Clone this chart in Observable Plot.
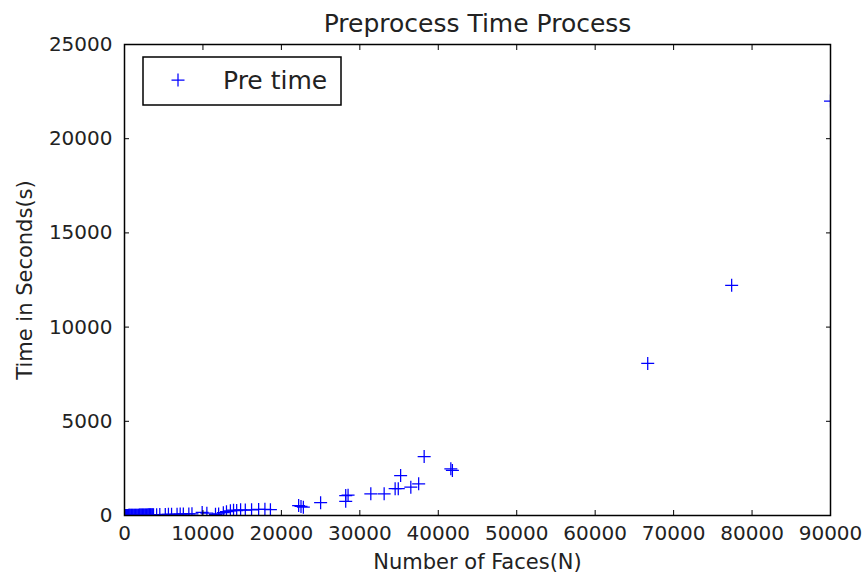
<!DOCTYPE html>
<html>
<head>
<meta charset="utf-8">
<script src="https://cdn.jsdelivr.net/npm/d3@7"></script>
<script src="https://cdn.jsdelivr.net/npm/@observablehq/plot@0.6"></script>
<style>
  html, body { margin: 0; padding: 0; background: #fff; }
  #chart { width: 866px; height: 577px; }
</style>
</head>
<body>
<div id="chart"></div>
<script>
// Preprocessing time measured against mesh size (number of faces)
const faces = [
  100, 150, 200, 250, 300, 350, 400, 450, 500, 550, 600, 700, 800, 900, 1000, 1100,
  1200, 1300, 1400, 1500, 1600, 1700, 1800, 1900, 2000, 2100, 2200, 2300, 2400, 2500,
  2600, 2700, 2800, 2900, 3000, 3100, 3200, 3300, 3400, 3500, 3600, 3700,
  4100, 4500, 5200, 5600, 6000, 6700, 7100, 7500, 8200, 8600, 9900, 10500, 11600, 12000,
  12600, 13000, 13500, 13900, 14300, 14800, 15400, 16200, 17100, 17900, 18600,
  22200, 22500, 22800, 25000, 28200, 28500, 28200, 31400, 33100, 34500, 34900, 35200,
  36500, 37500, 38200, 41600, 41800, 66700, 77400, 90000
];
const seconds = [
  1, 2, 2, 3, 3, 4, 5, 5, 6, 7, 7, 8, 9, 10, 11, 12,
  13, 14, 15, 16, 17, 18, 19, 20, 21, 22, 23, 25, 26, 27,
  29, 30, 32, 33, 35, 36, 38, 39, 41, 42, 44, 46,
  45, 50, 55, 60, 65, 70, 75, 80, 85, 90, 160, 120, 60, 80,
  150, 200, 250, 280, 260, 300, 290, 300, 320, 330, 310,
  530, 480, 440, 680, 1060, 1080, 750, 1150, 1150, 1420, 1420, 2120,
  1500, 1680, 3130, 2480, 2390, 8070, 12220, 22000
];
const xTicks = [0, 10000, 20000, 30000, 40000, 50000, 60000, 70000, 80000, 90000];
const yTicks = [0, 5000, 10000, 15000, 20000, 25000];
const seriesName = "Pre time";

const data = faces.map((n, i) => ({faces: n, seconds: seconds[i]}));

// Thin "+" marker, drawn as two strokes
const plusSymbol = {
  draw(context, size) {
    const r = Math.sqrt(size / Math.PI);
    context.moveTo(-r, 0);
    context.lineTo(r, 0);
    context.moveTo(0, -r);
    context.lineTo(0, r);
  }
};

const font = "'DejaVu Sans', sans-serif";
const fmt = d3.format("d");
const margins = {left: 124, right: 36, top: 44, bottom: 62};

const plot = Plot.plot({
  width: 866,
  height: 577,
  marginLeft: margins.left,
  marginRight: margins.right,
  marginTop: margins.top,
  marginBottom: margins.bottom,
  style: {fontFamily: font, color: "black", background: "white", overflow: "visible"},
  x: {domain: [0, 90000]},
  y: {domain: [0, 25000]},
  marks: [
    Plot.dot(data, {
      x: "faces", y: "seconds", symbol: plusSymbol, r: 6.5,
      fill: "none", stroke: "#0000ff", strokeWidth: 1.25, clip: true
    }),
    // inward tick marks on all four sides
    Plot.axisX({anchor: "bottom", ticks: xTicks, tickSize: -5, fill: "none", stroke: "black", label: null}),
    Plot.axisX({anchor: "top", ticks: xTicks, tickSize: -5, fill: "none", stroke: "black", label: null}),
    Plot.axisY({anchor: "left", ticks: yTicks, tickSize: -5, fill: "none", stroke: "black", label: null}),
    Plot.axisY({anchor: "right", ticks: yTicks, tickSize: -5, fill: "none", stroke: "black", label: null}),
    // tick labels
    Plot.axisX({anchor: "bottom", ticks: xTicks, tickSize: 0, tickPadding: 10, tickFormat: fmt,
      fontSize: 20, fill: "#222", label: null}),
    Plot.axisY({anchor: "left", ticks: yTicks, tickSize: 0, tickPadding: 12, tickFormat: fmt,
      fontSize: 20, fill: "#222", label: null}),
    Plot.frame({stroke: "black", strokeWidth: 1.5}),
    // title and axis titles
    Plot.text(["Preprocess Time Process"], {
      frameAnchor: "top", dy: -21, lineAnchor: "middle", fontSize: 25, fill: "#222"
    }),
    Plot.text(["Number of Faces(N)"], {
      frameAnchor: "bottom", dy: 47, lineAnchor: "middle", fontSize: 21, fill: "#222"
    }),
    Plot.text(["Time in Seconds(s)"], {
      frameAnchor: "left", dx: -99, rotate: -90, lineAnchor: "middle", textAnchor: "middle",
      fontSize: 21, fill: "#222"
    })
  ]
});

document.getElementById("chart").appendChild(plot);

// Legend box in the upper-left corner of the plot area
const svg = d3.select(plot);
const legend = svg.append("g")
  .attr("transform", `translate(${margins.left + 19},${margins.top + 13})`);
legend.append("rect")
  .attr("width", 198).attr("height", 48)
  .attr("fill", "white").attr("stroke", "black").attr("stroke-width", 1.5);
legend.append("path")
  .attr("d", d3.symbol(plusSymbol, 6.5 * 6.5 * Math.PI)())
  .attr("transform", "translate(35,23)")
  .attr("fill", "none").attr("stroke", "#0000ff").attr("stroke-width", 1.25);
legend.append("text")
  .attr("x", 80).attr("y", 23).attr("dy", "0.35em")
  .attr("text-anchor", "start")
  .attr("font-family", font).attr("font-size", 25).attr("fill", "#222")
  .text(seriesName);
</script>
</body>
</html>
